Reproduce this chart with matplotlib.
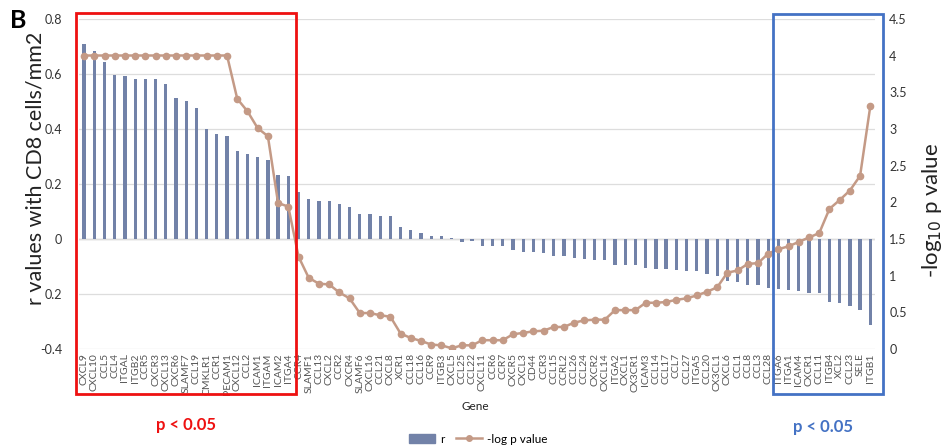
import numpy as np
import matplotlib.pyplot as plt
from matplotlib.patches import Rectangle
from matplotlib.lines import Line2D
from matplotlib.ticker import FixedLocator, FixedFormatter

plt.rcParams['font.family'] = ['Lato', 'DejaVu Sans']

# genes ordered by r value
genes = ["CXCL9", "CXCL10", "CCL5", "CCL4", "ITGAL", "ITGB2", "CCR5", "CXCR3", "CXCL13", "CXCR6",
         "SLAMF7", "CCL19", "CMKLR1", "CCR1", "PECAM1", "CXCL12", "CCL2", "ICAM1", "ITGAM", "ICAM2",
         "ITGA4", "CCR4", "SLAMF1", "CCL13", "CXCL2", "CCR2", "CXCR4", "SLAMF6", "CXCL16", "CCL21",
         "CXCL8", "XCR1", "CCL18", "CCL16", "CCR9", "ITGB3", "CXCL5", "CCL25", "CCL22", "CXCL11",
         "CCR6", "CCR7", "CXCR5", "CXCL3", "CD44", "CCR3", "CCL15", "CCRL2", "CCL26", "CCL24",
         "CXCR2", "CXCL14", "ITGA2", "CXCL1", "CX3CR1", "ICAM3", "CCL14", "CCL17", "CCL7", "CCL27",
         "ITGA5", "CCL20", "CX3CL1", "CXCL6", "CCL1", "CCL8", "CCL3", "CCL28", "ITGA6", "ITGA1",
         "ICAM4", "CXCR1", "CCL11", "ITGB4", "XCL2", "CCL23", "SELE", "ITGB1"]

r_vals = [0.709, 0.684, 0.644, 0.595, 0.593, 0.583, 0.580, 0.580, 0.562, 0.514,
          0.502, 0.475, 0.400, 0.381, 0.375, 0.320, 0.309, 0.298, 0.288, 0.232,
          0.228, 0.172, 0.145, 0.138, 0.138, 0.126, 0.115, 0.091, 0.090, 0.084,
          0.083, 0.045, 0.032, 0.022, 0.012, 0.012, 0.002, -0.011, -0.009, -0.024,
          -0.024, -0.024, -0.042, -0.046, -0.048, -0.051, -0.061, -0.061, -0.070, -0.074,
          -0.076, -0.076, -0.095, -0.095, -0.095, -0.107, -0.108, -0.110, -0.113, -0.115,
          -0.116, -0.127, -0.135, -0.152, -0.156, -0.167, -0.168, -0.177, -0.181, -0.185,
          -0.189, -0.195, -0.198, -0.228, -0.234, -0.244, -0.258, -0.313]

logp = [4.0, 4.0, 4.0, 4.0, 4.0, 4.0, 4.0, 4.0, 4.0, 4.0,
        4.0, 4.0, 4.0, 4.0, 4.0, 3.41, 3.24, 3.01, 2.90, 1.99,
        1.94, 1.26, 0.97, 0.89, 0.88, 0.77, 0.69, 0.49, 0.49, 0.46,
        0.44, 0.21, 0.15, 0.11, 0.06, 0.05, 0.01, 0.05, 0.05, 0.12,
        0.12, 0.12, 0.20, 0.22, 0.24, 0.25, 0.30, 0.30, 0.36, 0.39,
        0.40, 0.40, 0.53, 0.53, 0.53, 0.63, 0.63, 0.64, 0.67, 0.69,
        0.73, 0.78, 0.84, 1.04, 1.07, 1.16, 1.17, 1.30, 1.36, 1.40,
        1.46, 1.52, 1.58, 1.91, 2.03, 2.16, 2.36, 3.31]

bar_col = "#7282a8"
line_col = "#c49a86"
x = np.arange(len(genes))

fig = plt.figure(figsize=(9.47, 4.48), dpi=100)
ax = fig.add_axes([0.0834, 0.221, 0.841, 0.737])
ax.bar(x, r_vals, width=0.32, color=bar_col, zorder=2)
ax.set_xlim(-0.5, len(genes) - 0.5)
ax.set_ylim(-0.4, 0.8)
ax.yaxis.set_major_locator(FixedLocator([-0.4, -0.2, 0, 0.2, 0.4, 0.6, 0.8]))
ax.yaxis.set_major_formatter(FixedFormatter(["-0.4", "0.2", "0", "0.2", "0.4", "0.6", "0.8"]))
ax.grid(axis="y", color="#dddddd", lw=0.9, zorder=0)
ax.axhline(0, color="#cccccc", lw=1, zorder=1)
for s in ax.spines.values():
    s.set_visible(False)
ax.tick_params(axis="y", length=0, labelsize=9, colors="#333333", pad=12)
ax.set_xticks(x)
ax.set_xticklabels(genes, rotation=90, fontsize=7.5, color="#555555")
ax.tick_params(axis="x", length=0, pad=3)

ax2 = ax.twinx()
ax2.plot(x, logp, color=line_col, lw=1.8, marker="o", ms=4.5, zorder=3)
ax2.set_ylim(0, 4.5)
ax2.set_yticks(np.arange(0, 4.51, 0.5))
ax2.set_yticklabels(["0", "0.5", "1", "1.5", "2", "2.5", "3", "3.5", "4", "4.5"])
for s in ax2.spines.values():
    s.set_visible(False)
ax2.tick_params(axis="y", length=0, labelsize=9, colors="#333333", pad=10)

# axis titles
fig.text(35 / 947, 1 - 168 / 448, "r values with CD8 cells/mm2", fontsize=15.5, color="#222222",
         rotation=90, ha="center", va="center")
fig.text(932 / 947, 1 - 210 / 448, "-log$_{10}$ p value", fontsize=16, color="#222222",
         rotation=90, ha="center", va="center")

# highlight boxes around significant genes
fig.patches.append(Rectangle((76 / 947, 1 - 394 / 448), 220 / 947, 381 / 448,
                             transform=fig.transFigure, fill=False, ec="#ee1111", lw=2))
fig.patches.append(Rectangle((773 / 947, 1 - 394 / 448), 110 / 947, 380 / 448,
                             transform=fig.transFigure, fill=False, ec="#4472c4", lw=2))

fig.text(186 / 947, 1 - 425 / 448, "p < 0.05", color="#ee1111", fontsize=12,
         fontweight="bold", ha="center", va="center")
fig.text(823 / 947, 1 - 427 / 448, "p < 0.05", color="#4472c4", fontsize=12,
         fontweight="bold", ha="center", va="center")
fig.text(475 / 947, 1 - 406 / 448, "Gene", fontsize=8.5, color="#222222", ha="center", va="center")
fig.text(18 / 947, 1 - 20 / 448, "B", fontsize=18, fontweight="bold", ha="center", va="center")

handles = [Rectangle((0, 0), 1, 1, color=bar_col),
           Line2D([0], [0], color=line_col, lw=1.8, marker="o", ms=4)]
fig.legend(handles, ["r", "-log p value"], loc="center", bbox_to_anchor=(478 / 947, 1 - 439 / 448),
           ncol=2, frameon=False, fontsize=8.5, handlelength=2.2, columnspacing=1.0, handletextpad=0.4)

fig.savefig("out.png", dpi=100)
